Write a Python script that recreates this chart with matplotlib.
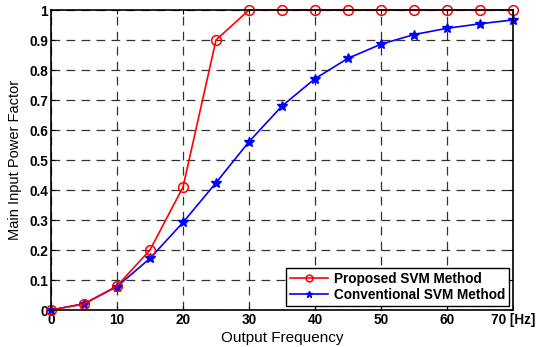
import matplotlib.pyplot as plt

freq = [0, 5, 10, 15, 20, 25, 30, 35, 40, 45, 50, 55, 60, 65, 70]
proposed = [0, 0.02, 0.08, 0.2, 0.41, 0.9, 1, 1, 1, 1, 1, 1, 1, 1, 1]
conventional = [0, 0.021, 0.078, 0.172, 0.292, 0.424, 0.561, 0.68, 0.771, 0.839,
                0.886, 0.918, 0.939, 0.954, 0.967]
xticks = [0, 10, 20, 30, 40, 50, 60, 70]
xticklabels = ["0", "10", "20", "30", "40", "50", "60", "70 [Hz]"]
yticks = [0, 0.1, 0.2, 0.3, 0.4, 0.5, 0.6, 0.7, 0.8, 0.9, 1]

plt.rcParams["font.family"] = "Liberation Sans"

fig = plt.figure(figsize=(5.37, 3.47), dpi=100)
ax = fig.add_axes([51 / 537, 37 / 347, 462 / 537, 300 / 347])

ax.plot(freq, proposed, color="red", marker="o", markersize=7,
        markerfacecolor="none", markeredgewidth=1.1, linewidth=1.2,
        label="Proposed SVM Method", clip_on=False, zorder=4)
ax.plot(freq, conventional, color="blue", marker="*", markersize=7,
        linewidth=1.2, label="Conventional SVM Method", clip_on=False, zorder=3)

ax.set_xlim(0, 70)
ax.set_ylim(0, 1)
ax.set_xticks(xticks)
ax.set_xticklabels(xticklabels)
ax.set_yticks(yticks)
ax.set_yticklabels(["%g" % v for v in yticks])
for lbl in ax.get_xticklabels() + ax.get_yticklabels():
    lbl.set_fontweight("bold")
    lbl.set_fontsize(9.8)

ax.tick_params(direction="in", length=3, pad=2, top=True, right=True)
ax.grid(True, color="#333333", linestyle=(0, (7, 5)), linewidth=0.9)
for s in ax.spines.values():
    s.set_linewidth(1.2)
    s.set_zorder(5)

ax.set_xlabel("Output Frequency", fontsize=11, labelpad=3)
ax.set_ylabel("Main Input Power Factor", fontsize=10.5, labelpad=5)

leg = ax.legend(loc="lower right", fancybox=False, edgecolor="black",
                framealpha=1, borderaxespad=0.3, borderpad=0.3,
                labelspacing=0.15, handlelength=2.8, handletextpad=0.4,
                markerscale=0.7, prop={"weight": "bold", "size": 9.8})
leg.get_frame().set_linewidth(1.0)
leg.set_zorder(6)

fig.savefig("out.png", dpi=100)
